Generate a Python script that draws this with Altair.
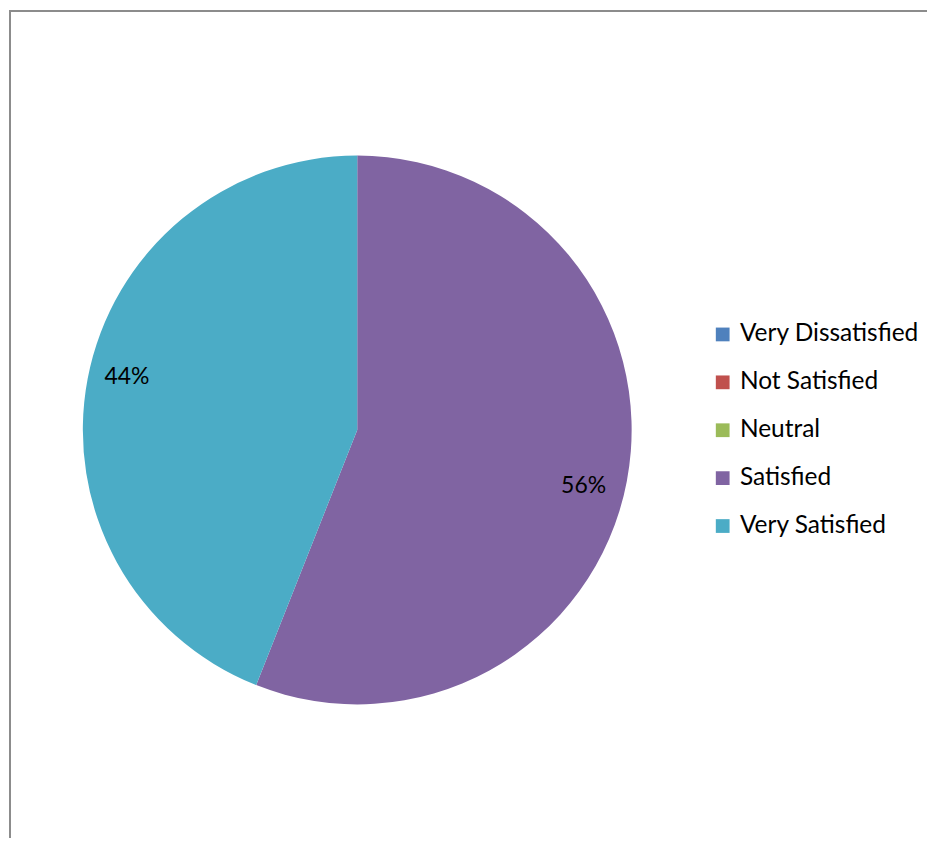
import altair as alt
import pandas as pd

categories = ["Very Dissatisfied", "Not Satisfied", "Neutral", "Satisfied", "Very Satisfied"]
values = [0, 0, 0, 56, 44]
colors = ["#4F81BD", "#C0504D", "#9BBB59", "#8064A2", "#4BACC6"]

df = pd.DataFrame({
    "category": categories,
    "value": values,
    "order": list(range(len(categories))),
    "label": [f"{v}%" for v in values],
})

W, H = 920, 830
CX, CY, R = 349, 421, 275
FONT = "Lato"

pie = alt.Chart(df).mark_arc(radius=R, stroke=None).encode(
    theta=alt.Theta("value:Q", stack=True),
    order=alt.Order("order:Q", sort="ascending"),
    x=alt.value(CX),
    y=alt.value(CY),
    color=alt.Color(
        "category:N",
        scale=alt.Scale(domain=categories, range=colors),
        sort=categories,
        legend=alt.Legend(
            title=None,
            orient="none",
            legendX=703,
            legendY=313,
            symbolType="square",
            symbolSize=190,
            symbolStrokeWidth=0,
            labelFont=FONT,
            labelFontSize=24.5,
            labelColor="#000000",
            labelOffset=5,
            rowPadding=23,
            labelLimit=400,
        ),
    ),
)

def label_layer(cat, dx, dy):
    return alt.Chart(df).transform_stack(
        stack="value", groupby=[], as_=["v0", "v1"],
        sort=[alt.SortField("order", order="ascending")],
    ).transform_calculate(
        mid="(datum.v0 + datum.v1) / 2"
    ).transform_filter(
        alt.datum.category == cat
    ).mark_text(radius=235, font=FONT, fontSize=23, color="#000000",
                align="center", baseline="middle", dx=dx, dy=dy).encode(
        theta=alt.Theta("mid:Q", stack=None),
        x=alt.value(CX),
        y=alt.value(CY),
        text="label:N",
    )

lab_vs = label_layer("Very Satisfied", 0, -9)
lab_s = label_layer("Satisfied", -4, 12)

frame_df = pd.DataFrame({"k": [0]})
vline = alt.Chart(frame_df).mark_rule(color="#8c8c8c", strokeWidth=2).encode(
    x=alt.value(1), y=alt.value(0), y2=alt.value(H)
)
hline = alt.Chart(frame_df).mark_rule(color="#8c8c8c", strokeWidth=2).encode(
    x=alt.value(0), x2=alt.value(W), y=alt.value(1)
)

chart = alt.layer(vline, hline, pie, lab_vs, lab_s).properties(
    width=W, height=H, padding=0, background="#ffffff"
).configure_view(stroke=None)

chart.save("out.html", embed_options={"renderer": "svg", "actions": False})
